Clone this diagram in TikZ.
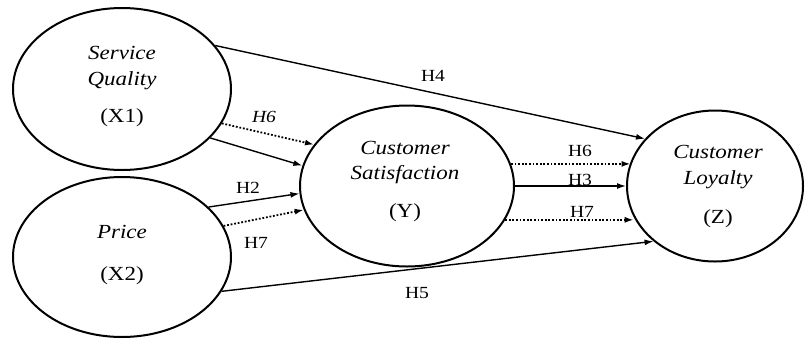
\documentclass[tikz,border=0pt]{standalone}
\usepackage{fontspec}
\setmainfont{Liberation Serif}[FakeStretch=1.15]
\usetikzlibrary{shapes.geometric,arrows.meta}
\begin{document}
\begin{tikzpicture}[x=1pt,y=-1pt,
  var/.style={draw,ellipse,line width=2pt,inner sep=0pt},
  vtext/.style={anchor=base,inner sep=0pt,font=\fontsize{20}{24}\selectfont\itshape},
  vcode/.style={anchor=base,inner sep=0pt,font=\fontsize{20}{24}\selectfont},
  hlbl/.style={anchor=base,inner sep=0pt,font=\fontsize{17}{20}\selectfont},
  path/.style={line width=1.4pt,-{Latex[length=9pt,width=6pt]}},
  dpath/.style={line width=1.8pt,dash pattern=on 1.8pt off 1.8pt,-{Latex[length=9pt,width=6pt]}}
]
\useasboundingbox (0,0) rectangle (810,338);
% latent variables
\node[var,minimum width=218pt,minimum height=162pt] (X1) at (122,89) {};
\node[var,minimum width=218pt,minimum height=160pt] (X2) at (122,257) {};
\node[var,minimum width=214pt,minimum height=161pt] (Y) at (407,186) {};
\node[var,minimum width=176pt,minimum height=151pt] (Z) at (715,186) {};
% texts
\node[vtext] (t1) at (122,59) {Service};
\node[vtext] (t2) at (122,85) {Quality};
\node[vcode] (t3) at (122,122) {(X1)};
\node[vtext] (t4) at (122,238) {Price};
\node[vcode] (t5) at (122,280) {(X2)};
\node[vtext] (t6) at (405,154) {Customer};
\node[vtext] (t7) at (405,179) {Satisfaction};
\node[vcode] (t8) at (405,217) {(Y)};
\node[vtext] (t9) at (718,158) {Customer};
\node[vtext] (t10) at (718,184) {Loyalty};
\node[vcode] (t11) at (718,223) {(Z)};
% paths
\draw[path] (X1.25) -- (Z.146);
\draw[dpath] (X1.-19) -- (Y.156);
\draw[path] (X1.-29) -- (Y.169);
\draw[path] (X2.30) -- (Y.-176);
\draw[dpath] (X2.17) -- (Y.-167);
\draw[path] (X2.-19) -- (Z.-138);
\draw[dpath] (Y.12) -- (Y.12 -| Z.164);
\draw[path] (Y.east) -- (Z.west);
\draw[dpath] (Y.-19) -- (Y.-19 -| Z.-159);
% labels
\node[hlbl] (h4) at (433,81) {H4};
\node[hlbl,font=\fontsize{17}{20}\selectfont\itshape] (h6a) at (264,122) {H6};
\node[hlbl] (h2) at (248,193) {H2};
\node[hlbl] (h7a) at (256,248) {H7};
\node[hlbl] (h6b) at (580,156) {H6};
\node[hlbl] (h3) at (580,185) {H3};
\node[hlbl] (h7b) at (582,217) {H7};
\node[hlbl] (h5) at (417,298) {H5};
\end{tikzpicture}
\end{document}
